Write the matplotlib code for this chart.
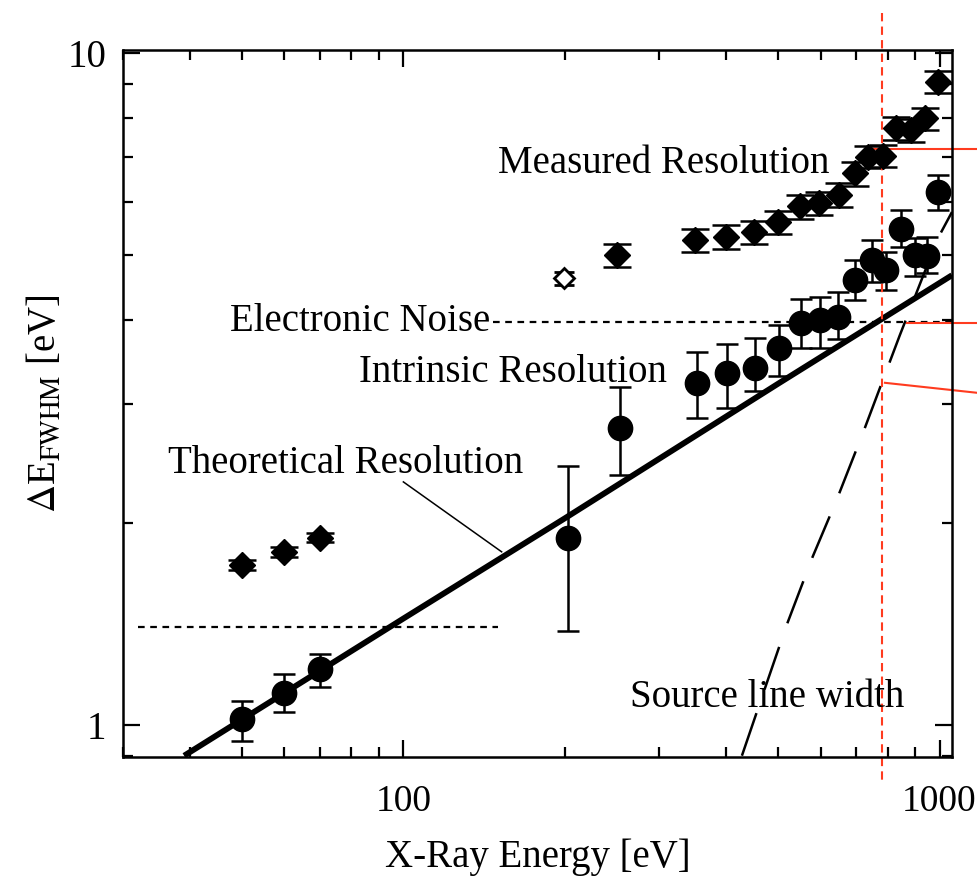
import numpy as np
import matplotlib
matplotlib.use("Agg")
import matplotlib.pyplot as plt
from matplotlib import transforms
from matplotlib.ticker import LogLocator, NullFormatter, FuncFormatter

plt.rcParams["font.family"] = ["Liberation Serif", "DejaVu Serif"]
plt.rcParams["mathtext.fontset"] = "stix"

# --- data ---
meas_e = [50, 60, 70, 250, 350, 400, 450, 500, 550, 595, 650, 695, 735, 785, 830, 885, 940, 995]
meas_de = [1.73, 1.81, 1.90, 5.00, 5.26, 5.33, 5.41, 5.60, 5.91, 5.98, 6.15, 6.62, 7.01, 7.03,
           7.73, 7.68, 7.99, 9.06]
meas_err = [0.03, 0.03, 0.03, 0.19, 0.21, 0.22, 0.22, 0.22, 0.24, 0.24, 0.26, 0.27, 0.27, 0.27,
            0.31, 0.30, 0.30, 0.33]

open_e = [199]
open_de = [4.62]
open_err = [0.10]

intr_e = [50, 60, 70, 203, 254, 353, 402, 453, 502, 552, 599, 647, 695, 747, 795, 847, 900, 946, 995]
intr_de = [1.02, 1.115, 1.21, 1.90, 2.77, 3.23, 3.34, 3.40, 3.64, 3.97, 4.01, 4.05, 4.59, 4.92,
           4.75, 5.48, 5.00, 4.98, 6.22]
intr_lo = [0.075, 0.07, 0.07, 0.52, 0.415, 0.37, 0.38, 0.26, 0.33, 0.33, 0.37, 0.30, 0.30, 0.35,
           0.31, 0.33, 0.35, 0.27, 0.39]
intr_hi = [0.065, 0.075, 0.065, 0.53, 0.41, 0.36, 0.35, 0.37, 0.30, 0.34, 0.33, 0.36, 0.33, 0.35,
           0.31, 0.35, 0.30, 0.35, 0.36]

theory_e = [39, 100, 200, 500, 1055]
theory_de = [0.90, 1.44, 2.03, 3.22, 4.67]

source_e = [428, 470, 519, 580, 644, 721, 843, 993, 1055]
source_de = [0.90, 1.12, 1.41, 1.78, 2.17, 2.73, 3.80, 5.30, 5.80]

noise_low_e = [32, 150]
noise_low_de = [1.40, 1.40]
noise_e = [147, 1055]
noise_de = [3.98, 3.98]

marker_e = 781  # red vertical reference line

fig = plt.figure(figsize=(9.78, 8.76), dpi=100)
ax = fig.add_axes([0.1258, 0.1362, 0.8476, 0.8066])
ax.set_xscale("log")
ax.set_yscale("log")
ax.set_xlim(30, 1055)
ax.set_ylim(0.897, 10.1)

# lines
ax.plot(theory_e, theory_de, color="black", lw=4.2, solid_capstyle="butt")
ax.plot(source_e, source_de, color="black", lw=1.8, dashes=(18, 10))
ax.plot(noise_low_e, noise_low_de, color="black", lw=1.6, dashes=(3, 2.5))
ax.plot(noise_e, noise_de, color="black", lw=1.6, dashes=(3, 2.5))

# data points
ax.errorbar(meas_e, meas_de, yerr=meas_err, fmt="D", ms=13, color="black",
            ecolor="black", elinewidth=1.8, capsize=10, capthick=1.8)
ax.errorbar(open_e, open_de, yerr=open_err, fmt="D", ms=10, mfc="white", mec="black",
            mew=2, ecolor="black", elinewidth=1.5, capsize=7, capthick=1.5)
ax.errorbar(intr_e, intr_de, yerr=[intr_lo, intr_hi], fmt="o", ms=17.5, color="black",
            ecolor="black", elinewidth=1.8, capsize=8, capthick=1.8)

# labels on the plot
fs = 28
ax.text(150, 6.84, "Measured Resolution", fontsize=fs, ha="left", va="center")
ax.text(145, 3.98, "Electronic Noise", fontsize=fs, ha="right", va="center")
ax.text(82.6, 3.35, "Intrinsic Resolution", fontsize=fs, ha="left", va="center")
ax.text(36.4, 2.45, "Theoretical Resolution", fontsize=fs, ha="left", va="center")
ax.text(265, 1.097, "Source line width", fontsize=fs, ha="left", va="center")
ax.plot([100, 152.5], [2.30, 1.81], color="black", lw=1.1)

# red overlay marks
red = "#ff3b1f"
blend = transforms.blended_transform_factory(ax.transData, fig.transFigure)
ax.plot([marker_e, marker_e], [0.985, 0.11], transform=blend, color=red, lw=1.5,
        dashes=(4, 2.5), clip_on=False)
ax.plot([747, 1300], [7.2, 7.2], color=red, lw=1.5, clip_on=False)
ax.plot([869, 1300], [3.96, 3.96], color=red, lw=1.5, clip_on=False)
ax.plot([791, 1181, 1300], [3.23, 3.12, 3.09], color=red, lw=1.5, clip_on=False)

# axes styling
for sp in ax.spines.values():
    sp.set_linewidth(1.8)
ax.xaxis.set_major_locator(LogLocator(base=10, numticks=10))
ax.yaxis.set_major_locator(LogLocator(base=10, numticks=10))
ax.xaxis.set_minor_locator(LogLocator(base=10, subs=np.arange(2, 10), numticks=20))
ax.yaxis.set_minor_locator(LogLocator(base=10, subs=np.arange(2, 10), numticks=20))
fmt = FuncFormatter(lambda v, p: f"{v:g}")
ax.xaxis.set_major_formatter(fmt)
ax.yaxis.set_major_formatter(fmt)
ax.xaxis.set_minor_formatter(NullFormatter())
ax.yaxis.set_minor_formatter(NullFormatter())
ax.tick_params(which="both", direction="in", top=True, right=True, width=1.6)
ax.tick_params(which="major", length=12)
ax.tick_params(which="minor", length=7)
ax.tick_params(axis="x", which="major", labelsize=27, pad=20)
ax.tick_params(axis="y", which="major", labelsize=28, pad=12)

ax.set_xlabel("X-Ray Energy [eV]", fontsize=fs, labelpad=14)
ax.set_ylabel(r"$\Delta$E$_{\mathrm{FWHM}}$ [eV]", fontsize=fs, labelpad=2)

fig.savefig("out.png", dpi=100)
